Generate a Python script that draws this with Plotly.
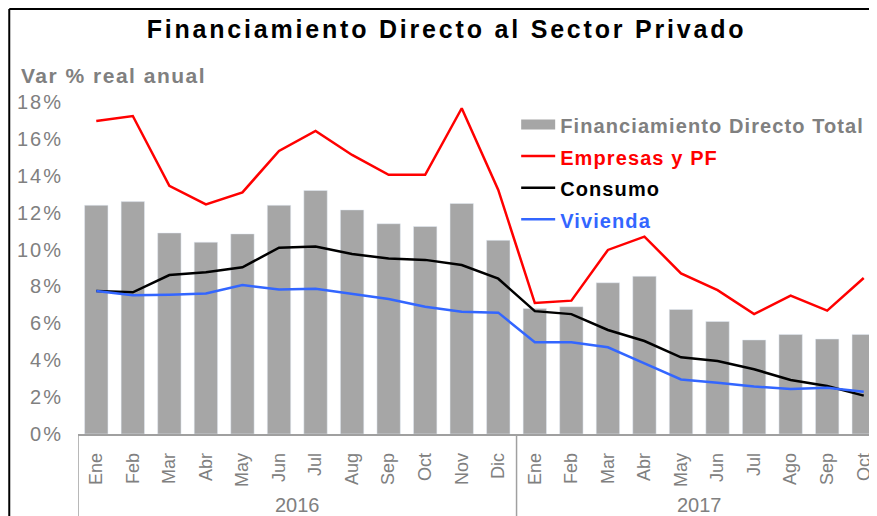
import plotly.graph_objects as go

meses = ["Ene", "Feb", "Mar", "Abr", "May", "Jun", "Jul", "Aug", "Sep", "Oct", "Nov", "Dic",
         "Ene", "Feb", "Mar", "Abr", "May", "Jun", "Jul", "Ago", "Sep", "Oct"]
anios = ["2016", "2017"]
total = [12.4, 12.6, 10.9, 10.4, 10.85, 12.4, 13.2, 12.15, 11.4, 11.25, 12.5, 10.5,
         6.8, 6.9, 8.2, 8.55, 6.75, 6.1, 5.1, 5.4, 5.15, 5.4]
empresas = [16.97, 17.24, 13.45, 12.45, 13.1, 15.35, 16.43, 15.13, 14.05, 14.05, 17.66, 13.23,
            7.1, 7.23, 9.98, 10.7, 8.71, 7.8, 6.5, 7.5, 6.69, 8.46]
consumo = [7.75, 7.68, 8.62, 8.77, 9.04, 10.1, 10.16, 9.76, 9.51, 9.44, 9.16, 8.42,
           6.66, 6.5, 5.64, 5.04, 4.16, 3.96, 3.51, 2.93, 2.6, 2.08]
vivienda = [7.75, 7.52, 7.55, 7.62, 8.08, 7.83, 7.88, 7.62, 7.32, 6.9, 6.63, 6.58,
            4.97, 4.97, 4.7, 3.83, 2.96, 2.78, 2.57, 2.44, 2.51, 2.29]
y_ticks = [0, 2, 4, 6, 8, 10, 12, 14, 16, 18]

x = list(range(len(meses)))
gris = "#A6A6A6"
rojo = "#FF0000"
azul = "#3366FF"
txt = "#808080"
fnt = "Liberation Sans, Arial, sans-serif"

def etiqueta(s, c):
    return "<span style='font-size:20px;letter-spacing:1.1px;color:%s'><b>%s</b></span>" % (c, s)

fig = go.Figure()
fig.add_trace(go.Bar(x=x, y=total, width=0.64, marker_color=gris, showlegend=False))
# entrada de leyenda con símbolo rectangular ancho para las barras
fig.add_trace(go.Scatter(x=[None], y=[None], mode="lines", line=dict(color=gris, width=10),
                         name=etiqueta("Financiamiento Directo Total", txt)))
fig.add_trace(go.Scatter(x=x, y=empresas, mode="lines", line=dict(color=rojo, width=2.5),
                         name=etiqueta("Empresas y PF", rojo)))
fig.add_trace(go.Scatter(x=x, y=consumo, mode="lines", line=dict(color="black", width=2.5),
                         name=etiqueta("Consumo", "black")))
fig.add_trace(go.Scatter(x=x, y=vivienda, mode="lines", line=dict(color=azul, width=2.5),
                         name=etiqueta("Vivienda", azul)))

fig.update_layout(
    width=877, height=516,
    margin=dict(l=70, r=3, t=94, b=90),
    plot_bgcolor="white", paper_bgcolor="white",
    font=dict(family=fnt, color=txt),
    title=dict(text="<span style='letter-spacing:2.8px'><b>Financiamiento Directo al Sector Privado</b></span>",
               x=0.5, xanchor="center", y=0.959, yanchor="middle",
               font=dict(size=25, color="black", family=fnt)),
    showlegend=True,
    legend=dict(x=0.545, xanchor="left", y=0.995, yanchor="top", font=dict(size=22),
                bgcolor="rgba(0,0,0,0)", itemwidth=34),
    xaxis=dict(range=[-0.5, 21.5], tickvals=x, ticktext=meses, tickangle=-90,
               showgrid=False, showline=True, linecolor="#A0A0A0", linewidth=1.5,
               ticks="", ticklabelstandoff=10, tickfont=dict(size=18, color=txt)),
    yaxis=dict(range=[0, 18], tickvals=y_ticks,
               ticktext=["<span style='letter-spacing:2px'>%d%%</span>" % v for v in y_ticks],
               showgrid=False, zeroline=False, ticks="", ticklabelstandoff=14,
               tickfont=dict(size=20, color=txt)),
)

# separadores de año debajo del eje
for xs in [-0.5, 11.5]:
    fig.add_shape(type="line", xref="x", yref="paper", x0=xs, x1=xs, y0=0, y1=-0.28,
                  line=dict(color="#A0A0A0", width=1.5))

for i, a in enumerate(anios):
    fig.add_annotation(x=5.5 if i == 0 else 16.5, xref="x", y=-0.252, yref="paper",
                       text=a, showarrow=False, font=dict(size=20, color=txt))

fig.add_annotation(x=-0.073, xref="paper", xanchor="left", y=1.081, yref="paper",
                   yanchor="middle", text="<span style='letter-spacing:1.5px'><b>Var % real anual</b></span>",
                   showarrow=False, font=dict(size=21, color=txt))

# marco exterior
fig.add_shape(type="line", xref="paper", yref="paper", x0=-0.0855, x1=1.02, y0=1.28, y1=1.28,
              line=dict(color="black", width=2))
fig.add_shape(type="line", xref="paper", yref="paper", x0=-0.0855, x1=-0.0855, y0=1.28, y1=-0.3,
              line=dict(color="black", width=2))

fig.write_html("out.html")
